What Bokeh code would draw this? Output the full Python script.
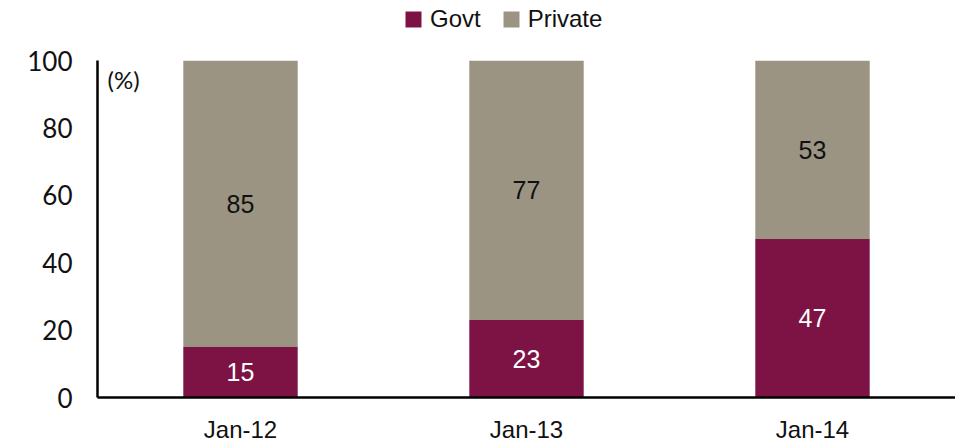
from bokeh.plotting import figure
from bokeh.models import ColumnDataSource, FactorRange, Range1d, Legend, LegendItem, Label
from bokeh.layouts import column
from bokeh.embed import file_html
from bokeh.resources import INLINE

categories = ["Jan-12", "Jan-13", "Jan-14"]
govt = [15, 23, 47]
private = [85, 77, 53]
y_ticks = [0, 20, 40, 60, 80, 100]

GOVT_COLOR = "#7C1344"
PRIV_COLOR = "#9C9483"
FONT = "Liberation Sans"
NUM_FONT = "Lato"

src = ColumnDataSource(dict(
    cat=categories,
    govt=govt,
    private=private,
    govt_mid=[g / 2 for g in govt],
    priv_mid=[g + p / 2 for g, p in zip(govt, private)],
    govt_lbl=[str(v) for v in govt],
    priv_lbl=[str(v) for v in private],
))

# ---- legend strip (top) ----
lg = figure(width=955, height=45, x_range=Range1d(0, 1), y_range=Range1d(0, 1),
            output_backend="svg", toolbar_location=None,
            min_border_left=97, min_border_right=0, min_border_top=0, min_border_bottom=0)
lg.outline_line_color = None
lg.axis.visible = False
lg.grid.visible = False
# swatch renderers placed outside the visible range: only their legend swatches show
d1 = lg.quad(left=[5], right=[6], top=[5], bottom=[4], color=GOVT_COLOR, line_color=None)
d2 = lg.quad(left=[5], right=[6], top=[5], bottom=[4], color=PRIV_COLOR, line_color=None)
legend = Legend(items=[LegendItem(label="Govt", renderers=[d1]),
                       LegendItem(label="Private", renderers=[d2])],
                orientation="horizontal", location=(306, 12),
                border_line_color=None, background_fill_alpha=0,
                label_text_font=FONT, label_text_font_size="24px",
                label_text_color="#111111",
                glyph_width=20, glyph_height=20, spacing=20, padding=0, margin=0,
                label_standoff=7)
lg.add_layout(legend, "center")

# ---- main chart ----
p = figure(width=955, height=402, x_range=FactorRange(factors=categories, range_padding=0),
           y_range=Range1d(0, 100), output_backend="svg", toolbar_location=None,
           min_border_left=97, min_border_right=0, min_border_top=15, min_border_bottom=50)
p.outline_line_color = None
p.grid.visible = False

r = p.vbar_stack(["govt", "private"], x="cat", width=0.4, color=[GOVT_COLOR, PRIV_COLOR],
                 line_color=None, source=src)

p.text(x="cat", y="govt_mid", text="govt_lbl", source=src, text_align="center",
       text_baseline="middle", text_color="white", text_font_size="25px",
       text_font={"value": FONT})
p.text(x="cat", y="priv_mid", text="priv_lbl", source=src, text_align="center",
       text_baseline="middle", text_color="#111111", text_font_size="25px",
       text_font={"value": FONT})

for ax in (p.xaxis[0], p.yaxis[0]):
    ax.axis_line_color = "black"
    ax.axis_line_width = 2.5
    ax.major_tick_line_color = None
    ax.minor_tick_line_color = None
    ax.major_tick_out = 0
    ax.major_tick_in = 0
    ax.minor_tick_out = 0
    ax.minor_tick_in = 0
    ax.major_label_text_color = "#111111"

p.yaxis[0].ticker = y_ticks
p.yaxis[0].major_label_text_font = NUM_FONT
p.yaxis[0].major_label_text_font_size = "26px"
p.yaxis[0].major_label_standoff = 25
p.xaxis[0].major_label_text_font = FONT
p.xaxis[0].major_label_text_font_size = "24px"
p.xaxis[0].major_label_standoff = 18

p.add_layout(Label(x=10, y=100, x_units="screen", y_units="data", text="(%)",
                   text_font=NUM_FONT, text_font_size="24px", text_baseline="top",
                   text_color="#111111", y_offset=-4))

layout = column(lg, p, spacing=0)
open("out.html", "w").write(file_html(layout, INLINE))
